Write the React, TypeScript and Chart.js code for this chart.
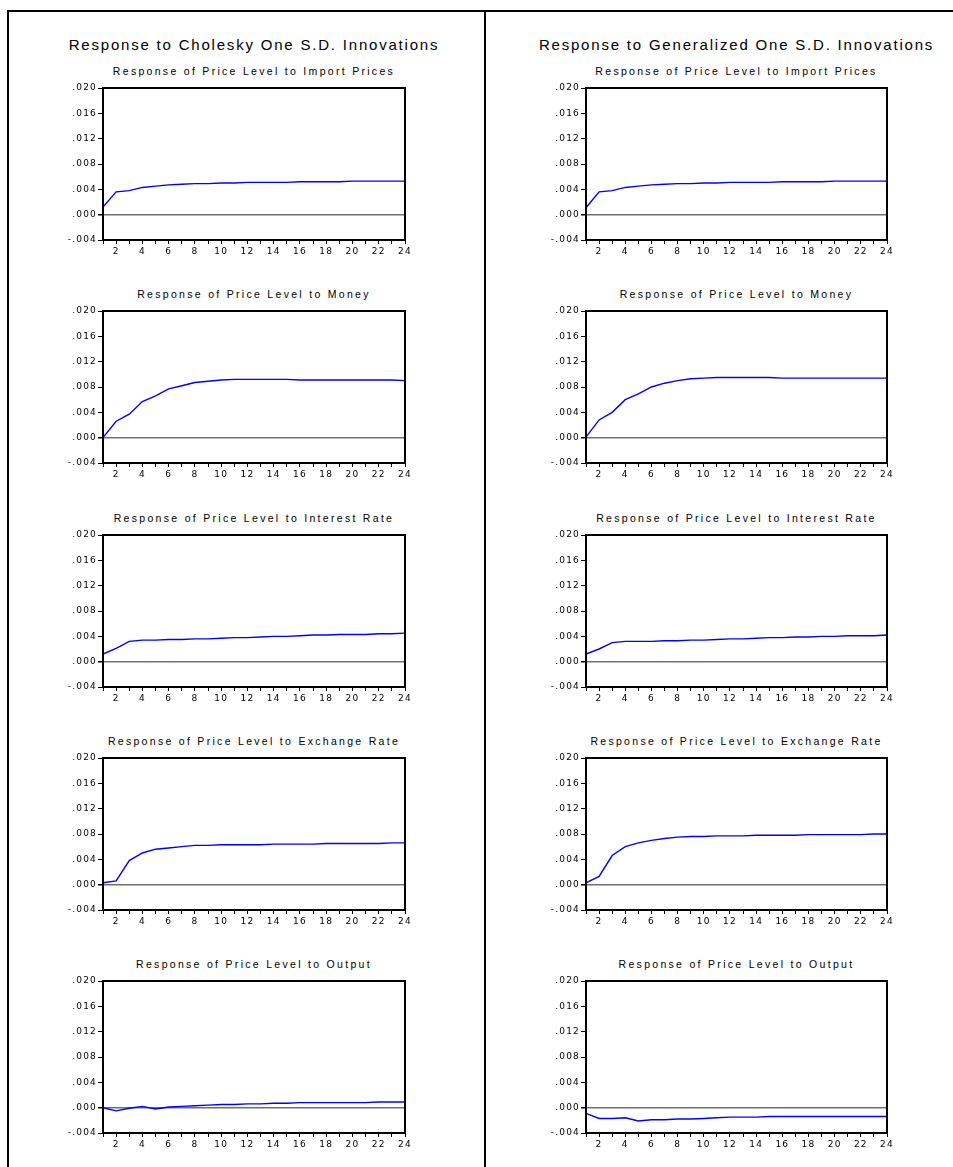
import React, { useEffect, useRef } from 'react';
import { Chart, registerables } from 'chart.js';

Chart.register(...registerables);

// ---------- data ----------
const periods = [1, 2, 3, 4, 5, 6, 7, 8, 9, 10, 11, 12, 13, 14, 15, 16, 17, 18, 19, 20, 21, 22, 23, 24];
const xTickLabels = ['', '2', '', '4', '', '6', '', '8', '', '10', '', '12', '', '14', '', '16', '', '18', '', '20', '', '22', '', '24'];
const yTickValues = [-0.004, 0, 0.004, 0.008, 0.012, 0.016, 0.02];
const yTickLabels = ['-.004', '.000', '.004', '.008', '.012', '.016', '.020'];

const mainTitles = ['Response to Cholesky One S.D. Innovations', 'Response to Generalized One S.D. Innovations'];
const panelTitles = [
  'Response of Price Level to Import Prices',
  'Response of Price Level to Money',
  'Response of Price Level to Interest Rate',
  'Response of Price Level to Exchange Rate',
  'Response of Price Level to Output',
];

// Cholesky
const cholImport = [0.0012, 0.0036, 0.0038, 0.0043, 0.0045, 0.0047, 0.0048, 0.0049, 0.0049, 0.0050, 0.0050, 0.0051, 0.0051, 0.0051, 0.0051, 0.0052, 0.0052, 0.0052, 0.0052, 0.0053, 0.0053, 0.0053, 0.0053, 0.0053];
const cholMoney = [0.0000, 0.0026, 0.0037, 0.0057, 0.0066, 0.0077, 0.0082, 0.0087, 0.0089, 0.0091, 0.0092, 0.0092, 0.0092, 0.0092, 0.0092, 0.0091, 0.0091, 0.0091, 0.0091, 0.0091, 0.0091, 0.0091, 0.0091, 0.0090];
const cholInterest = [0.0012, 0.0021, 0.0032, 0.0034, 0.0034, 0.0035, 0.0035, 0.0036, 0.0036, 0.0037, 0.0038, 0.0038, 0.0039, 0.0040, 0.0040, 0.0041, 0.0042, 0.0042, 0.0043, 0.0043, 0.0043, 0.0044, 0.0044, 0.0045];
const cholExchange = [0.0003, 0.0006, 0.0038, 0.0050, 0.0056, 0.0058, 0.0060, 0.0062, 0.0062, 0.0063, 0.0063, 0.0063, 0.0063, 0.0064, 0.0064, 0.0064, 0.0064, 0.0065, 0.0065, 0.0065, 0.0065, 0.0065, 0.0066, 0.0066];
const cholOutput = [0.0000, -0.0005, -0.0001, 0.0002, -0.0002, 0.0001, 0.0002, 0.0003, 0.0004, 0.0005, 0.0005, 0.0006, 0.0006, 0.0007, 0.0007, 0.0008, 0.0008, 0.0008, 0.0008, 0.0008, 0.0008, 0.0009, 0.0009, 0.0009];

// Generalized
const genImport = [0.0011, 0.0036, 0.0038, 0.0043, 0.0045, 0.0047, 0.0048, 0.0049, 0.0049, 0.0050, 0.0050, 0.0051, 0.0051, 0.0051, 0.0051, 0.0052, 0.0052, 0.0052, 0.0052, 0.0053, 0.0053, 0.0053, 0.0053, 0.0053];
const genMoney = [0.0001, 0.0028, 0.0040, 0.0060, 0.0069, 0.0080, 0.0086, 0.0090, 0.0093, 0.0094, 0.0095, 0.0095, 0.0095, 0.0095, 0.0095, 0.0094, 0.0094, 0.0094, 0.0094, 0.0094, 0.0094, 0.0094, 0.0094, 0.0094];
const genInterest = [0.0012, 0.0020, 0.0030, 0.0032, 0.0032, 0.0032, 0.0033, 0.0033, 0.0034, 0.0034, 0.0035, 0.0036, 0.0036, 0.0037, 0.0038, 0.0038, 0.0039, 0.0039, 0.0040, 0.0040, 0.0041, 0.0041, 0.0041, 0.0042];
const genExchange = [0.0003, 0.0013, 0.0046, 0.0060, 0.0066, 0.0070, 0.0073, 0.0075, 0.0076, 0.0076, 0.0077, 0.0077, 0.0077, 0.0078, 0.0078, 0.0078, 0.0078, 0.0079, 0.0079, 0.0079, 0.0079, 0.0079, 0.0080, 0.0080];
const genOutput = [-0.0009, -0.0017, -0.0017, -0.0016, -0.0021, -0.0019, -0.0019, -0.0018, -0.0018, -0.0017, -0.0016, -0.0015, -0.0015, -0.0015, -0.0014, -0.0014, -0.0014, -0.0014, -0.0014, -0.0014, -0.0014, -0.0014, -0.0014, -0.0014];

const cholSeries = [cholImport, cholMoney, cholInterest, cholExchange, cholOutput];
const genSeries = [genImport, genMoney, genInterest, genExchange, genOutput];

// ---------- layout ----------
const COL_LEFT = [103, 586];
const COL_WIDTH = [302, 301];
const ROW_TOP = [88, 311, 535, 758, 981];
const PLOT_H = 152;
const PAD_L = 45;
const PAD_T = 10;
const PAD_R = 15;
const PAD_B = 25;

const framePlugin = {
  id: 'eviewsFrame',
  beforeDraw(chart: any) {
    (chart.ctx as any).letterSpacing = '1.2px';
  },
  afterDraw(chart: any) {
    const { ctx, chartArea: a } = chart;
    ctx.save();
    ctx.strokeStyle = '#000';
    ctx.lineWidth = 2;
    ctx.strokeRect(a.left, a.top, a.right - a.left, a.bottom - a.top);
    ctx.restore();
  },
};

const tickFont = { family: "'DejaVu Sans', sans-serif", size: 9 };

function Panel({ left, top, width, values }: { left: number; top: number; width: number; values: number[] }) {
  const ref = useRef<HTMLCanvasElement>(null);
  const W = width + PAD_L + PAD_R;
  const H = PLOT_H + PAD_T + PAD_B;

  useEffect(() => {
    if (!ref.current) return;
    const chart = new Chart(ref.current, {
      type: 'line',
      data: {
        labels: periods,
        datasets: [
          {
            data: values,
            borderColor: '#0000FF',
            borderWidth: 1.4,
            pointRadius: 0,
            tension: 0,
            fill: false,
          },
        ],
      },
      options: {
        animation: false,
        responsive: false,
        maintainAspectRatio: false,
        events: [],
        layout: { padding: { left: 0, top: PAD_T, right: PAD_R, bottom: 0 } },
        plugins: { legend: { display: false }, tooltip: { enabled: false }, title: { display: false } },
        scales: {
          x: {
            type: 'linear',
            min: 1,
            max: 24,
            afterBuildTicks: (axis: any) => {
              axis.ticks = periods.map((v) => ({ value: v }));
            },
            afterFit: (axis: any) => {
              axis.height = PAD_B;
            },
            ticks: {
              autoSkip: false,
              maxRotation: 0,
              minRotation: 0,
              padding: 2,
              color: '#000',
              font: tickFont,
              callback: (_v: any, i: number) => xTickLabels[i],
            },
            grid: {
              drawOnChartArea: false,
              drawTicks: true,
              tickLength: 4,
              tickColor: '#000',
              lineWidth: 1,
            },
            border: { display: false },
          },
          y: {
            type: 'linear',
            min: -0.004,
            max: 0.02,
            afterBuildTicks: (axis: any) => {
              axis.ticks = yTickValues.map((v) => ({ value: v }));
            },
            afterFit: (axis: any) => {
              axis.width = PAD_L;
            },
            ticks: {
              padding: 1,
              color: '#000',
              font: tickFont,
              callback: (_v: any, i: number) => yTickLabels[i],
            },
            grid: {
              drawOnChartArea: true,
              drawTicks: true,
              tickLength: 5,
              tickColor: '#000',
              color: (c: any) => (c.tick && c.tick.value === 0 ? '#707070' : 'rgba(0,0,0,0)'),
              lineWidth: (c: any) => (c.tick && c.tick.value === 0 ? 1.5 : 1),
            },
            border: { display: false },
          },
        },
      },
      plugins: [framePlugin],
    } as any);
    return () => chart.destroy();
  }, []);

  return (
    <canvas
      ref={ref}
      width={W}
      height={H}
      style={{ position: 'absolute', left: left - PAD_L, top: top - PAD_T, width: W, height: H, display: 'block' }}
    />
  );
}

const titleFont = "'Liberation Sans', Arial, sans-serif";

export default function App() {
  return (
    <div
      style={{
        position: 'absolute',
        left: 0,
        top: 0,
        width: 953,
        height: 1167,
        overflow: 'hidden',
        background: '#fff',
      }}
    >
      {/* outer frame */}
      <div style={{ position: 'absolute', left: 7, top: 10, width: 946, height: 2, background: '#000' }} />
      <div style={{ position: 'absolute', left: 7, top: 10, width: 2, height: 1157, background: '#000' }} />
      <div style={{ position: 'absolute', left: 484, top: 10, width: 2, height: 1157, background: '#000' }} />

      {[0, 1].map((col) => {
        const cx = COL_LEFT[col] + COL_WIDTH[col] / 2;
        return (
          <React.Fragment key={col}>
            <div
              style={{
                position: 'absolute',
                left: cx - 250,
                width: 500,
                top: 36,
                height: 18,
                lineHeight: '18px',
                textAlign: 'center',
                fontFamily: titleFont,
                fontSize: 15,
                letterSpacing: '1.8px',
                whiteSpace: 'nowrap',
                color: '#000',
              }}
            >
              {mainTitles[col]}
            </div>
            {ROW_TOP.map((rt, row) => (
              <React.Fragment key={row}>
                <div
                  style={{
                    position: 'absolute',
                    left: cx - 200,
                    width: 400,
                    top: rt - 23,
                    height: 13,
                    lineHeight: '13px',
                    textAlign: 'center',
                    fontFamily: titleFont,
                    fontSize: 10.5,
                    letterSpacing: '2.3px',
                    whiteSpace: 'nowrap',
                    color: '#000',
                  }}
                >
                  {panelTitles[row]}
                </div>
                <Panel
                  left={COL_LEFT[col]}
                  top={rt}
                  width={COL_WIDTH[col]}
                  values={col === 0 ? cholSeries[row] : genSeries[row]}
                />
              </React.Fragment>
            ))}
          </React.Fragment>
        );
      })}
    </div>
  );
}
